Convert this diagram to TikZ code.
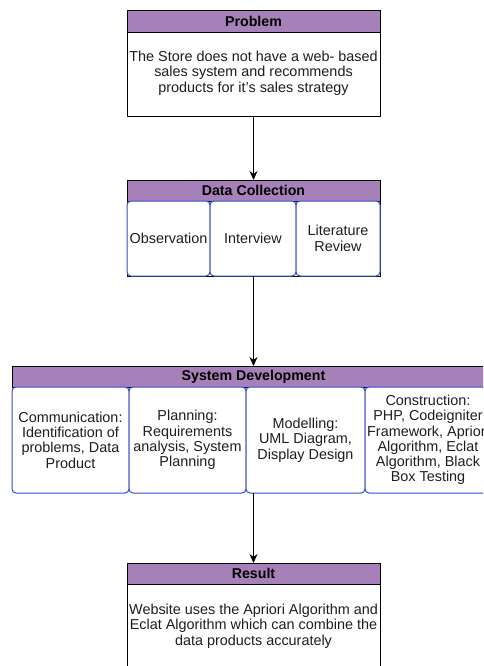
\documentclass[tikz,border=0pt]{standalone}
\usepackage{fontspec}
\setmainfont{Liberation Sans}
\usetikzlibrary{arrows.meta}
\definecolor{hdr}{RGB}{166,128,184}
\definecolor{subb}{RGB}{55,75,210}
\definecolor{txt}{RGB}{30,30,30}
\begin{document}
\begin{tikzpicture}[x=1pt,y=-1pt,
  hdrbox/.style={draw=black,fill=hdr,line width=0.8pt},
  bodybox/.style={draw=black,fill=white,line width=0.8pt},
  subbox/.style={draw=subb,fill=white,line width=1pt,rounded corners=4pt},
  hdrtext/.style={font=\fontsize{14.2}{15}\selectfont\bfseries,text=black,inner sep=0pt},
  bodytext/.style={font=\fontsize{14.4}{15.3}\selectfont,text=txt,align=center,inner sep=0pt},
  conn/.style={draw=black,line width=0.9pt,-{Stealth[length=9pt,width=8pt]}}]
\useasboundingbox (0,0) rectangle (483,666);
\clip (0,0) rectangle (483,666);
% Problem
\draw[bodybox] (127,32) rectangle (380,116);
\draw[hdrbox] (127,10) rectangle (380,32);
\node[hdrtext] (ph) at (253.5,21) {Problem};
\node[bodytext] (pb) at (253.5,73) {The Store does not have a web- based\\sales system and recommends\\products for it's sales strategy};
\coordinate (pbot) at (253.5,116);
% Data collection
\draw[bodybox] (127,201) rectangle (380,276);
\draw[hdrbox] (127,180) rectangle (380,201);
\coordinate (dtop) at (253.5,180);
\node[hdrtext] (dh) at (253.5,190.5) {Data Collection};
\draw[subbox] (127,201) rectangle (210,276);
\draw[subbox] (210,201) rectangle (296,276);
\draw[subbox] (296,201) rectangle (380,276);
\node[bodytext] (d1) at (168.5,238.5) {Observation};
\node[bodytext] (d2) at (253,238.5) {Interview};
\node[bodytext] (d3) at (338,238.5) {Literature\\Review};
\coordinate (dbot) at (253.5,276);
% System development
\draw[hdrbox] (12,366) rectangle (495,387);
\coordinate (stop) at (253.5,366);
\node[hdrtext] (sh) at (253.5,376.5) {System Development};
\draw[subbox] (12,387) rectangle (129,493);
\draw[subbox] (129,387) rectangle (246,493);
\draw[subbox] (246,387) rectangle (365,493);
\draw[subbox] (365,387) rectangle (491,493);
\node[bodytext] (s1) at (70.5,440) {Communication:\\Identification of\\problems, Data\\Product};
\node[bodytext] (s2) at (187.5,440) {Planning:\\Requirements\\analysis, System\\Planning};
\node[bodytext] (s3) at (305.5,440) {Modelling:\\UML Diagram,\\Display Design};
\node[bodytext] (s4) at (428,440) {Construction:\\PHP, Codeigniter\\Framework, Apriori\\Algorithm, Eclat\\Algorithm, Black\\Box Testing};
\coordinate (sbot) at (253.5,493);
% Result
\draw[bodybox] (127,584) rectangle (380,668);
\draw[hdrbox] (127,563) rectangle (380,584);
\coordinate (rtop) at (253.5,563);
\node[hdrtext] (rh) at (253.5,573.5) {Result};
\node[bodytext] (rb) at (253.5,626) {Website uses the Apriori Algorithm and\\Eclat Algorithm which can combine the\\data products accurately};
% connectors
\draw[conn] (pbot) -- (dtop);
\draw[conn] (dbot) -- (stop);
\draw[conn] (sbot) -- (rtop);
\end{tikzpicture}
\end{document}
